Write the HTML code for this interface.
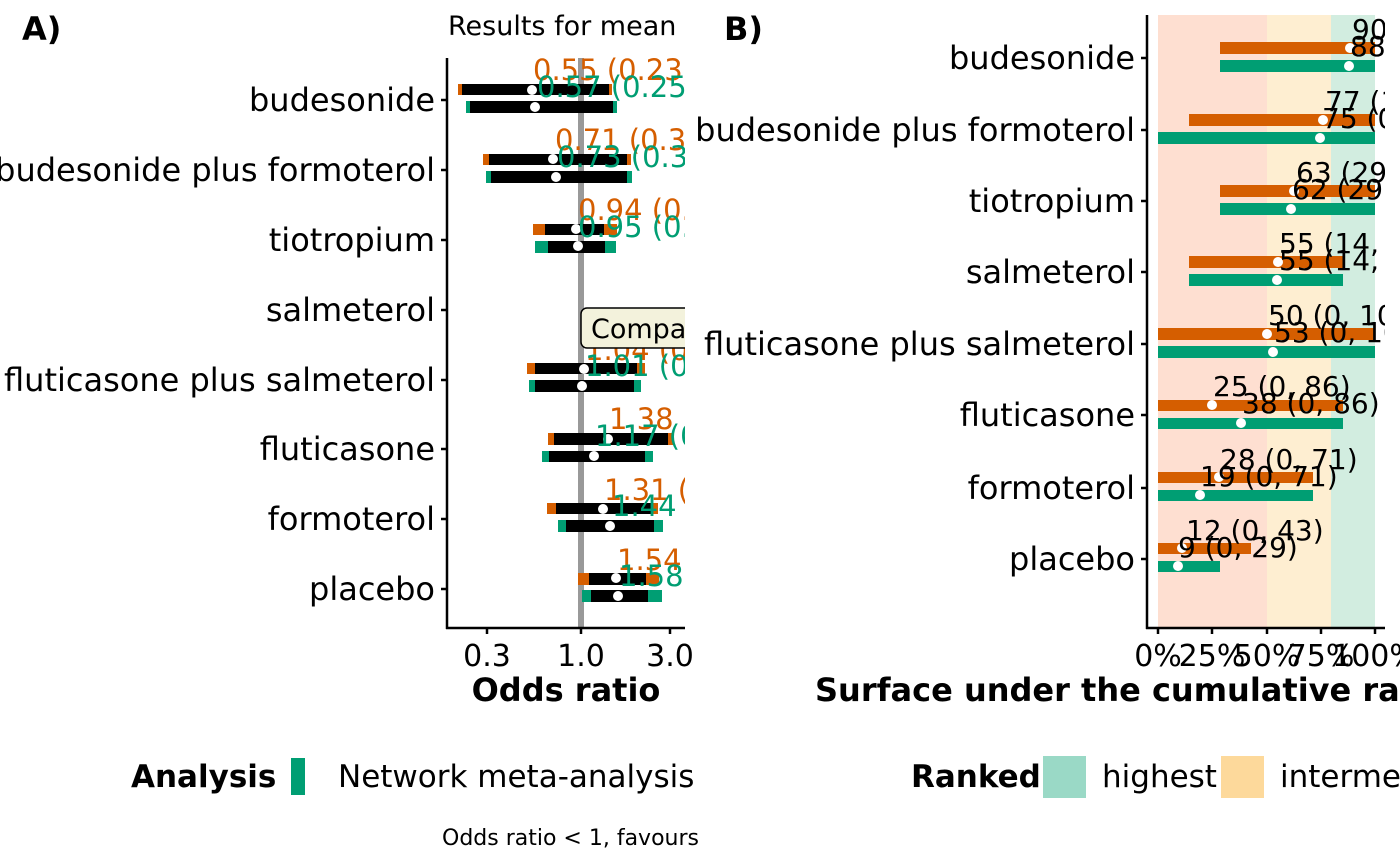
<!DOCTYPE html>
<html><head><meta charset="utf-8"><style>
html,body{margin:0;padding:0;background:#fff;}
svg{display:block;font-family:"DejaVu Sans","Liberation Sans",sans-serif;}
</style></head><body>
<svg width="1400" height="866" viewBox="0 0 1400 866" xmlns="http://www.w3.org/2000/svg">
<defs>
<clipPath id="ca"><rect x="448" y="0" width="237" height="640"/></clipPath>
<clipPath id="cb"><rect x="1148" y="0" width="237" height="640"/></clipPath>
<clipPath id="cl"><rect x="0" y="0" width="700" height="866"/></clipPath>
</defs>

<!-- Panel A -->
<text x="22" y="40" font-size="32" font-weight="bold">A)</text>
<text x="448" y="35" font-size="27">Results for mean</text>
<g font-size="32" text-anchor="end">
<text x="435" y="111">budesonide</text>
<text x="435" y="181">budesonide plus formoterol</text>
<text x="435" y="251">tiotropium</text>
<text x="435" y="321">salmeterol</text>
<text x="435" y="391">fluticasone plus salmeterol</text>
<text x="435" y="460">fluticasone</text>
<text x="435" y="530">formoterol</text>
<text x="435" y="600">placebo</text>
</g>
<g stroke="#000" stroke-width="2.5">
<line x1="441" y1="100" x2="447" y2="100"/><line x1="441" y1="170" x2="447" y2="170"/>
<line x1="441" y1="240" x2="447" y2="240"/><line x1="441" y1="310" x2="447" y2="310"/>
<line x1="441" y1="380" x2="447" y2="380"/><line x1="441" y1="449" x2="447" y2="449"/>
<line x1="441" y1="519" x2="447" y2="519"/><line x1="441" y1="589" x2="447" y2="589"/>
</g>
<g clip-path="url(#ca)">
<rect x="578" y="58" width="6" height="570" fill="#999"/>
<rect x="458" y="84" width="154" height="11" fill="#d55e00"/><rect x="462" y="84" width="147" height="11" fill="#000"/>
<circle cx="532" cy="90" r="5" fill="#fff"/>
<rect x="466" y="101" width="151" height="12" fill="#009e73"/><rect x="470" y="101" width="143" height="12" fill="#000"/>
<circle cx="535" cy="107" r="5" fill="#fff"/>
<rect x="483" y="154" width="148" height="11" fill="#d55e00"/><rect x="489" y="154" width="138" height="11" fill="#000"/>
<circle cx="553" cy="159" r="5" fill="#fff"/>
<rect x="486" y="171" width="146" height="12" fill="#009e73"/><rect x="491" y="171" width="136" height="12" fill="#000"/>
<circle cx="556" cy="177" r="5" fill="#fff"/>
<rect x="533" y="224" width="84" height="11" fill="#d55e00"/><rect x="545" y="224" width="59" height="11" fill="#000"/>
<circle cx="576" cy="229" r="5" fill="#fff"/>
<rect x="535" y="241" width="81" height="12" fill="#009e73"/><rect x="548" y="241" width="57" height="12" fill="#000"/>
<circle cx="578" cy="246" r="5" fill="#fff"/>
<rect x="527" y="363" width="118" height="11" fill="#d55e00"/><rect x="535" y="363" width="102" height="11" fill="#000"/>
<circle cx="584" cy="369" r="5" fill="#fff"/>
<rect x="529" y="380" width="112" height="12" fill="#009e73"/><rect x="535" y="380" width="99" height="12" fill="#000"/>
<circle cx="582" cy="386" r="5" fill="#fff"/>
<rect x="548" y="433" width="126" height="12" fill="#d55e00"/><rect x="554" y="433" width="114" height="12" fill="#000"/>
<circle cx="608" cy="439" r="5" fill="#fff"/>
<rect x="542" y="451" width="111" height="11" fill="#009e73"/><rect x="549" y="451" width="96" height="11" fill="#000"/>
<circle cx="594" cy="456" r="5" fill="#fff"/>
<rect x="547" y="503" width="111" height="11" fill="#d55e00"/><rect x="556" y="503" width="95" height="11" fill="#000"/>
<circle cx="603" cy="509" r="5" fill="#fff"/>
<rect x="558" y="520" width="105" height="12" fill="#009e73"/><rect x="566" y="520" width="88" height="12" fill="#000"/>
<circle cx="610" cy="526" r="5" fill="#fff"/>
<rect x="578" y="573" width="81" height="12" fill="#d55e00"/><rect x="589" y="573" width="57" height="12" fill="#000"/>
<circle cx="616" cy="578" r="5" fill="#fff"/>
<rect x="582" y="590" width="80" height="12" fill="#009e73"/><rect x="591" y="590" width="57" height="12" fill="#000"/>
<circle cx="618" cy="596" r="5" fill="#fff"/>
<g font-size="29">
<text x="533" y="80" fill="#d55e00">0.55 (0.23, 1.31)</text>
<text x="537" y="97" fill="#009e73">0.57 (0.25, 1.31)</text>
<text x="555" y="150" fill="#d55e00">0.71 (0.31, 1.62)</text>
<text x="557" y="167" fill="#009e73">0.73 (0.32, 1.66)</text>
<text x="578" y="220" fill="#d55e00">0.94 (0.53, 1.68)</text>
<text x="578" y="237" fill="#009e73">0.95 (0.54, 1.68)</text>
<text x="585" y="360" fill="#d55e00">1.04 (0.49, 2.20)</text>
<text x="585" y="376" fill="#009e73">1.01 (0.50, 2.05)</text>
<text x="609" y="429" fill="#d55e00">1.38 (0.72, 2.66)</text>
<text x="595" y="446" fill="#009e73">1.17 (0.62, 2.21)</text>
<text x="604" y="500" fill="#d55e00">1.31 (0.66, 2.60)</text>
<text x="612" y="516" fill="#009e73">1.44</text>
<text x="617" y="570" fill="#d55e00">1.54</text>
<text x="619" y="586" fill="#009e73">1.58</text>
</g>
<rect x="581" y="308" width="120" height="40" rx="6" fill="#f3f2dc" stroke="#000" stroke-width="1.5"/>
<text x="591" y="338" font-size="27">Comparator</text>
</g>
<line x1="447" y1="58" x2="447" y2="629" stroke="#000" stroke-width="2.5"/>
<line x1="446" y1="628" x2="685" y2="628" stroke="#000" stroke-width="2.5"/>
<g stroke="#000" stroke-width="2.5">
<line x1="487" y1="628" x2="487" y2="634"/><line x1="581" y1="628" x2="581" y2="634"/><line x1="670" y1="628" x2="670" y2="634"/>
</g>
<g font-size="30" text-anchor="middle">
<text x="487" y="666">0.3</text><text x="581" y="666">1.0</text><text x="670" y="666">3.0</text>
</g>
<text x="566" y="701" font-size="32" font-weight="bold" text-anchor="middle">Odds ratio</text>

<g clip-path="url(#cl)">
<text x="131" y="787" font-size="31" font-weight="bold">Analysis</text>
<rect x="291" y="758" width="14" height="37" fill="#009e73"/>
<text x="338" y="787" font-size="31">Network meta-analysis</text>
<text x="442" y="845" font-size="22">Odds ratio &lt; 1, favours treatment</text>
</g>

<!-- Panel B -->
<text x="724" y="40" font-size="32" font-weight="bold">B)</text>
<rect x="1158" y="15" width="109" height="613" fill="#fedfd1"/>
<rect x="1267" y="15" width="64" height="613" fill="#feeed1"/>
<rect x="1331" y="15" width="44" height="613" fill="#d2ede0"/>
<g font-size="32" text-anchor="end">
<text x="1135" y="69">budesonide</text>
<text x="1135" y="141">budesonide plus formoterol</text>
<text x="1135" y="212">tiotropium</text>
<text x="1135" y="283">salmeterol</text>
<text x="1135" y="355">fluticasone plus salmeterol</text>
<text x="1135" y="426">fluticasone</text>
<text x="1135" y="499">formoterol</text>
<text x="1135" y="570">placebo</text>
</g>
<g stroke="#000" stroke-width="2.5">
<line x1="1141" y1="58" x2="1147" y2="58"/><line x1="1141" y1="130" x2="1147" y2="130"/>
<line x1="1141" y1="201" x2="1147" y2="201"/><line x1="1141" y1="272" x2="1147" y2="272"/>
<line x1="1141" y1="344" x2="1147" y2="344"/><line x1="1141" y1="415" x2="1147" y2="415"/>
<line x1="1141" y1="488" x2="1147" y2="488"/><line x1="1141" y1="559" x2="1147" y2="559"/>
</g>
<g clip-path="url(#cb)">
<rect x="1220" y="42" width="155" height="12" fill="#d55e00"/><rect x="1220" y="60" width="155" height="12" fill="#009e73"/>
<circle cx="1350" cy="48" r="5" fill="#fff"/><circle cx="1349" cy="66" r="5" fill="#fff"/>
<rect x="1189" y="114" width="186" height="12" fill="#d55e00"/><rect x="1158" y="132" width="217" height="12" fill="#009e73"/>
<circle cx="1323" cy="120" r="5" fill="#fff"/><circle cx="1320" cy="138" r="5" fill="#fff"/>
<rect x="1220" y="185" width="155" height="12" fill="#d55e00"/><rect x="1220" y="203" width="155" height="12" fill="#009e73"/>
<circle cx="1294" cy="191" r="5" fill="#fff"/><circle cx="1291" cy="209" r="5" fill="#fff"/>
<rect x="1189" y="256" width="154" height="12" fill="#d55e00"/><rect x="1189" y="274" width="154" height="12" fill="#009e73"/>
<circle cx="1278" cy="262" r="5" fill="#fff"/><circle cx="1277" cy="280" r="5" fill="#fff"/>
<rect x="1158" y="328" width="217" height="12" fill="#d55e00"/><rect x="1158" y="346" width="217" height="12" fill="#009e73"/>
<circle cx="1267" cy="334" r="5" fill="#fff"/><circle cx="1273" cy="352" r="5" fill="#fff"/>
<rect x="1158" y="400" width="185" height="11" fill="#d55e00"/><rect x="1158" y="418" width="185" height="11" fill="#009e73"/>
<circle cx="1212" cy="405" r="5" fill="#fff"/><circle cx="1241" cy="423" r="5" fill="#fff"/>
<rect x="1158" y="472" width="155" height="11" fill="#d55e00"/><rect x="1158" y="490" width="155" height="11" fill="#009e73"/>
<circle cx="1219" cy="477" r="5" fill="#fff"/><circle cx="1200" cy="495" r="5" fill="#fff"/>
<rect x="1158" y="543" width="93" height="11" fill="#d55e00"/><rect x="1158" y="561" width="62" height="11" fill="#009e73"/>
<circle cx="1182" cy="548" r="5" fill="#fff"/><circle cx="1178" cy="566" r="5" fill="#fff"/>
<g font-size="28" fill="#000">
<text x="1352" y="39">90 (71, 100)</text><text x="1350" y="56">88 (71, 100)</text>
<text x="1325" y="111">77 (14, 100)</text><text x="1322" y="128">75 (0, 100)</text>
<text x="1296" y="182">63 (29, 100)</text><text x="1292" y="199">62 (29, 100)</text>
<text x="1279" y="253">55 (14, 86)</text><text x="1279" y="270">55 (14, 86)</text>
<text x="1268" y="325">50 (0, 100)</text><text x="1274" y="342">53 (0, 100)</text>
<text x="1213" y="396">25 (0, 86)</text><text x="1242" y="413">38 (0, 86)</text>
<text x="1220" y="469">28 (0, 71)</text><text x="1200" y="486">19 (0, 71)</text>
<text x="1186" y="540">12 (0, 43)</text><text x="1178" y="557">9 (0, 29)</text>
</g>
</g>
<line x1="1147" y1="15" x2="1147" y2="629" stroke="#000" stroke-width="2.5"/>
<line x1="1146" y1="628" x2="1385" y2="628" stroke="#000" stroke-width="2.5"/>
<g stroke="#000" stroke-width="2.5">
<line x1="1158" y1="628" x2="1158" y2="634"/><line x1="1212" y1="628" x2="1212" y2="634"/>
<line x1="1267" y1="628" x2="1267" y2="634"/><line x1="1321" y1="628" x2="1321" y2="634"/>
<line x1="1375" y1="628" x2="1375" y2="634"/>
</g>
<g font-size="30" text-anchor="middle">
<text x="1158" y="666">0%</text><text x="1212" y="666">25%</text><text x="1267" y="666">50%</text>
<text x="1321" y="666">75%</text><text x="1375" y="666">100%</text>
</g>
<text x="815" y="701" font-size="32" font-weight="bold">Surface under the cumulative ranking curve</text>

<text x="911" y="787" font-size="31" font-weight="bold">Ranked</text>
<rect x="1043" y="756" width="43" height="42" fill="#9ad9c6"/>
<text x="1102" y="787" font-size="31">highest</text>
<rect x="1221" y="756" width="43" height="42" fill="#fdd99b"/>
<text x="1280" y="787" font-size="31">intermediate</text>
</svg>
</body></html>
